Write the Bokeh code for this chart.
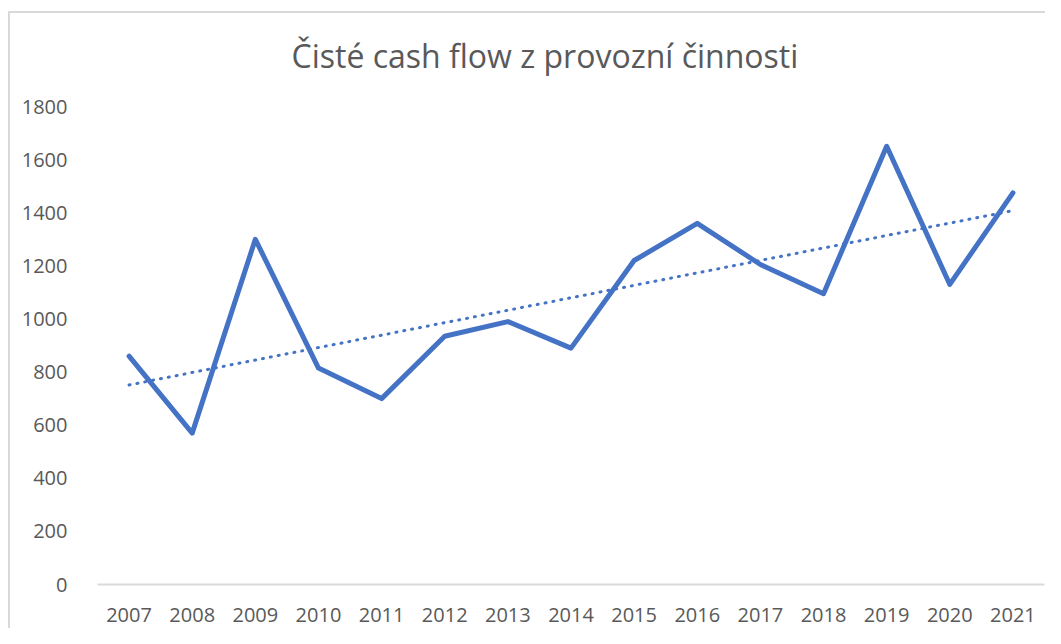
import numpy as np
from bokeh.plotting import figure
from bokeh.models import Range1d, FactorRange, ColumnDataSource
from bokeh.embed import file_html
from bokeh.resources import INLINE

years = ["2007", "2008", "2009", "2010", "2011", "2012", "2013", "2014",
         "2015", "2016", "2017", "2018", "2019", "2020", "2021"]
cash_flow = [860, 570, 1300, 815, 700, 935, 990, 890,
             1220, 1360, 1205, 1095, 1650, 1130, 1475]
y_ticks = [0, 200, 400, 600, 800, 1000, 1200, 1400, 1600, 1800]

TITLE = "Čisté cash flow z provozní činnosti"
FONT = "Open Sans"
GRAY = "#595959"
BLUE = "#4472C4"

# linear trend (least squares) computed from the data
xi = np.arange(len(cash_flow))
slope, intercept = np.polyfit(xi, np.array(cash_flow, dtype=float), 1)
trend = list(intercept + slope * xi)

src = ColumnDataSource(dict(year=years, value=cash_flow, trend=trend))

p = figure(width=1045, height=628, x_range=FactorRange(*years, range_padding=0),
           y_range=Range1d(0, 1800), output_backend="svg", toolbar_location=None,
           min_border_left=97, min_border_right=1, min_border_top=106,
           min_border_bottom=44)
p.title.text = TITLE
p.title.align = "left"
p.title.offset = 194
p.title.text_font = FONT
p.title.text_font_size = "32px"
p.title.text_font_style = "normal"
p.title.text_color = GRAY
p.title.standoff = 60

p.outline_line_color = None
p.xgrid.grid_line_color = None
p.ygrid.grid_line_color = None
p.border_fill_color = None
p.background_fill_color = None

p.yaxis.ticker = y_ticks
p.yaxis.axis_line_color = None
p.yaxis.major_tick_line_color = None
p.yaxis.minor_tick_line_color = None
p.yaxis.major_label_text_font = FONT
p.yaxis.major_label_text_font_size = "20px"
p.yaxis.major_label_text_color = GRAY
p.yaxis.major_label_standoff = 24

p.xaxis.axis_line_color = "#d9d9d9"
p.xaxis.axis_line_width = 2
p.xaxis.major_tick_line_color = None
p.xaxis.minor_tick_line_color = None
p.xaxis.major_label_text_font = FONT
p.xaxis.major_label_text_font_size = "20px"
p.xaxis.major_label_text_color = GRAY
p.xaxis.major_label_standoff = 17

p.line("year", "value", source=src, line_color=BLUE, line_width=5,
       line_join="round", line_cap="round")
p.line("year", "trend", source=src, line_color=BLUE, line_width=3,
       line_dash="1 7", line_cap="round")

# light grey chart-area border (left and top edges visible in the window)
p.styles = {
    "background": ("linear-gradient(#d9d9d9, #d9d9d9) 8px 11px / 2px 100% no-repeat, "
                   "linear-gradient(#d9d9d9, #d9d9d9) 8px 11px / 100% 2px no-repeat, "
                   "#ffffff"),
}

open("out.html", "w").write(file_html(p, INLINE))
